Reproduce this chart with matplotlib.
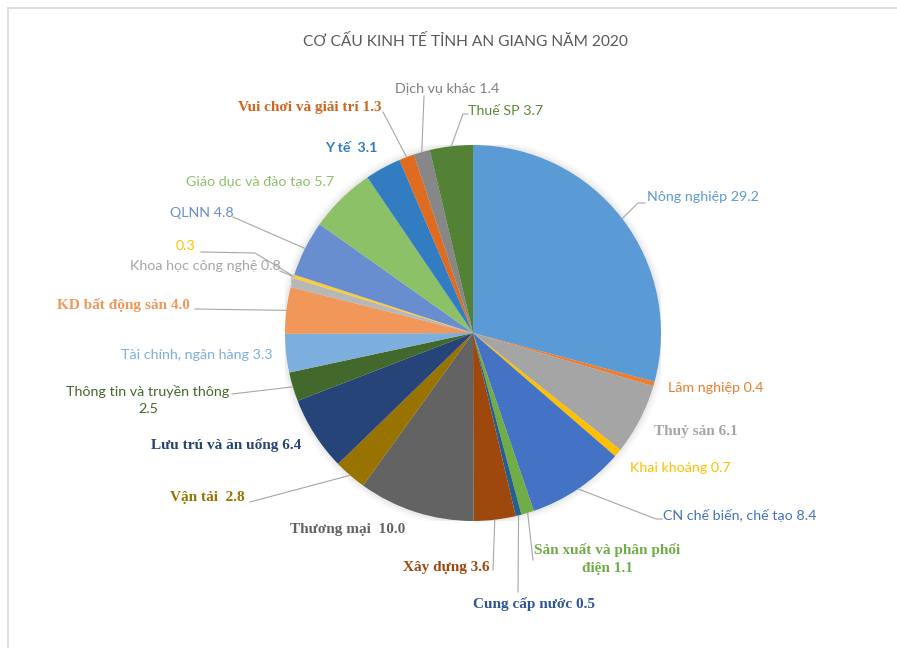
import matplotlib
matplotlib.use("Agg")
import matplotlib.pyplot as plt
from matplotlib.lines import Line2D
import numpy as np

# ---------------- data ----------------
title = "CƠ CẤU KINH TẾ TỈNH AN GIANG NĂM 2020"
categories = [
    "Nông nghiệp", "Lâm nghiệp", "Thuỷ sản", "Khai khoáng",
    "CN chế biến, chế tạo", "Sản xuất và phân phối\nđiện", "Cung cấp nước",
    "Xây dựng", "Thương mại ", "Vận tải ", "Lưu trú và ăn uống",
    "Thông tin và truyền thông\n", "Tài chính, ngân hàng", "KD bất động sản",
    "Khoa học công nghệ", "", "QLNN", "Giáo dục và đào tạo", "Y tế ",
    "Vui chơi và giải trí", "Dịch vụ khác", "Thuế SP",
]
values = [29.2, 0.4, 6.1, 0.7, 8.4, 1.1, 0.5, 3.6, 10.0, 2.8, 6.4,
          2.5, 3.3, 4.0, 0.8, 0.3, 4.8, 5.7, 3.1, 1.3, 1.4, 3.7]

# ---------------- styles ----------------
colors = ["#5B9BD5", "#ED7D31", "#A5A5A5", "#FFC000", "#4472C4", "#70AD47",
          "#255E91", "#9E480E", "#636363", "#997300", "#264478", "#43682B",
          "#7CAFDD", "#F1975A", "#B7B7B7", "#FFCD33", "#698ED0", "#8CC168",
          "#327DC2", "#DE6B1E", "#878787", "#538135"]
text_colors = ["#5B9BD5", "#ED7D31", "#A5A5A5", "#FFC000", "#4472C4", "#70AD47",
               "#2F5597", "#9E480E", "#636363", "#997300", "#264478", "#43682B",
               "#7CAFDD", "#F1975A", "#A6A6A6", "#FFC000", "#698ED0", "#8CC168",
               "#327DC2", "#D0661F", "#7F7F7F", "#5A8A3A"]

SANS = ["Lato", "Roboto", "DejaVu Sans"]
SERIF = ["Liberation Serif", "DejaVu Serif"]

W, H = 897, 648
CX, CY, R = 473, 333, 188

# label layout in image pixels: (x, y, ha, font, bold, leader points near text)
layout = [
    (647, 197, "left", "sans", False, [(638, 203), (645, 203)]),
    (668, 388, "left", "sans", False, None),
    (654, 431, "left", "serif", True, None),
    (630, 468, "left", "sans", False, None),
    (663, 515, "left", "sans", False, [(656, 519), (662, 519)]),
    (607, 559, "center", "serif", True, [(533, 560)]),
    (473, 604, "left", "serif", True, [(518, 592)]),
    (490, 568, "right", "serif", True, [(493, 570)]),
    (348, 530, "center", "serif", True, None),
    (170, 497, "left", "serif", True, [(250, 502)]),
    (301, 445, "right", "serif", True, None),
    (148, 400, "center", "sans", False, [(232, 394)]),
    (272, 355, "right", "sans", False, None),
    (57, 305, "left", "serif", True, [(195, 309)]),
    (281, 266, "right", "sans", False, [(292, 276), (280, 271)]),
    (176, 246, "left", "sans", False, [(255, 253), (201, 252)]),
    (170, 213, "left", "sans", False, [(233, 217)]),
    (186, 182, "left", "sans", False, None),
    (325, 148, "left", "sans", True, None),
    (381, 108, "right", "serif", True, [(383, 112)]),
    (395, 89, "left", "sans", False, [(424, 96)]),
    (468, 111, "left", "sans", False, [(463, 114), (468, 114)]),
]


def to_data(px, py):
    return (px - CX) / R, (CY - py) / R


fig = plt.figure(figsize=(W / 100, H / 100), dpi=100)
fig.patch.set_facecolor("white")

ax = fig.add_axes([(CX - R) / W, (H - CY - R) / H, 2 * R / W, 2 * R / H])

# soft shadow around pie
for rr, a in [(1.035, 0.05), (1.022, 0.07), (1.011, 0.09)]:
    ax.add_patch(plt.Circle((0, 0), rr, color="#9A9A9A", alpha=a, lw=0, zorder=0))

wedges, _ = ax.pie(values, colors=colors, startangle=90, counterclock=False,
                   radius=1.0, wedgeprops=dict(linewidth=0, edgecolor="none"))
ax.set_xlim(-1, 1)
ax.set_ylim(-1, 1)
ax.set_aspect("equal")
ax.axis("off")
for w in wedges:
    w.set_zorder(2)

for i, w in enumerate(wedges):
    x, y, ha, fam, bold, leader = layout[i]
    if categories[i]:
        sep = "" if categories[i].endswith("\n") else " "
        txt = f"{categories[i]}{sep}{values[i]:.1f}"
    else:
        txt = f"{values[i]:.1f}"
    tx, ty = to_data(x, y)
    ax.text(tx, ty, txt, ha=ha, va="center", color=text_colors[i],
            family=SERIF if fam == "serif" else SANS,
            fontsize=11 if fam == "serif" else 10.3,
            fontweight="bold" if bold else "normal",
            multialignment="center", linespacing=1.45, clip_on=False, zorder=5)
    if leader:
        ang = np.deg2rad((w.theta1 + w.theta2) / 2)
        pts = [(np.cos(ang), np.sin(ang))] + [to_data(px, py) for px, py in leader]
        xs, ys = zip(*pts)
        ax.plot(xs, ys, color="#A6A6A6", lw=0.8, clip_on=False, zorder=3)

fig.text(465 / W, 1 - 42 / H, title, ha="center", va="center",
         color="#595959", fontsize=11.2, family=SANS)

# chart frame (partially visible)
fig.add_artist(Line2D([8 / W, 1], [1 - 8 / H, 1 - 8 / H], color="#D9D9D9",
                      lw=1.2, transform=fig.transFigure))
fig.add_artist(Line2D([8 / W, 8 / W], [0, 1 - 8 / H], color="#D9D9D9",
                      lw=1.2, transform=fig.transFigure))

fig.savefig("out.png", dpi=100, facecolor="white")
